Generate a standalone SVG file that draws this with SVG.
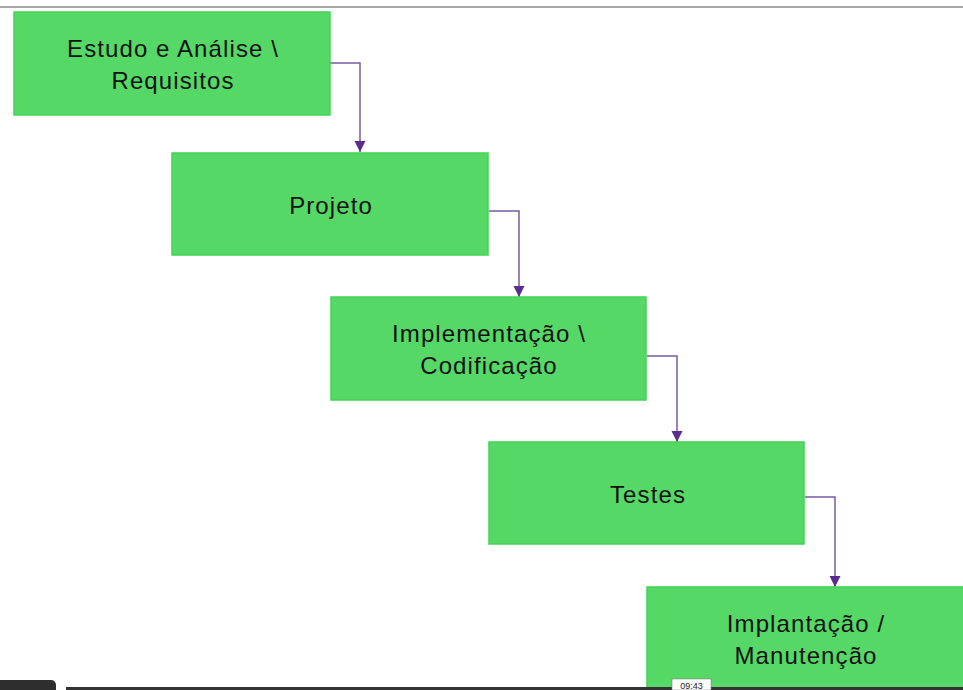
<svg xmlns="http://www.w3.org/2000/svg" width="963" height="690" viewBox="0 0 963 690">
<style>
.box{fill:#55d865;stroke:#42d454;stroke-width:1.5}
.lbl{font-family:"Liberation Sans",Arial,sans-serif;font-size:24px;letter-spacing:1.1px;fill:#111;text-anchor:middle}
.con{fill:none;stroke:#7a5aa8;stroke-width:1.5}
</style>
<defs>
<marker id="ah" markerWidth="12" markerHeight="12" refX="11" refY="6" orient="auto" markerUnits="userSpaceOnUse">
<path d="M0,0.5 L11,6 L0,11.5 Z" fill="#5a2c8e"/>
</marker>
</defs>
<rect x="0" y="0" width="963" height="690" fill="#ffffff"/>
<line x1="0" y1="7" x2="963" y2="7" stroke="#8a8a8a" stroke-width="1.5"/>
<g id="connectors">
<path class="con" d="M330,63 H360 V152" marker-end="url(#ah)"/>
<path class="con" d="M489,211 H519 V297" marker-end="url(#ah)"/>
<path class="con" d="M647,356 H677 V442" marker-end="url(#ah)"/>
<path class="con" d="M805,497 H835 V587" marker-end="url(#ah)"/>
</g>
<g id="n1">
<rect class="box" x="14" y="12" width="316" height="103"/>
<text class="lbl" x="173" y="57">Estudo e Análise \</text>
<text class="lbl" x="173" y="89">Requisitos</text>
</g>
<g id="n2">
<rect class="box" x="172" y="153" width="316" height="102"/>
<text class="lbl" x="331" y="214">Projeto</text>
</g>
<g id="n3">
<rect class="box" x="331" y="297" width="315" height="103"/>
<text class="lbl" x="489" y="342">Implementação \</text>
<text class="lbl" x="489" y="374">Codificação</text>
</g>
<g id="n4">
<rect class="box" x="489" y="442" width="315" height="102"/>
<text class="lbl" x="648" y="503">Testes</text>
</g>
<g id="n5">
<rect class="box" x="647" y="587" width="320" height="110"/>
<text class="lbl" x="806" y="632">Implantação /</text>
<text class="lbl" x="806" y="664">Manutenção</text>
</g>
<g id="player">
<rect x="-6" y="680" width="62" height="20" rx="5" fill="#2e2e2e"/>
<rect x="66" y="687" width="897" height="4" fill="#333333"/>
<rect x="672" y="679" width="39" height="11" fill="#ffffff" stroke="#777" stroke-width="0.5"/>
<text x="691.5" y="689" font-family="Liberation Sans,Arial,sans-serif" font-size="9" fill="#222" text-anchor="middle">09:43</text>
</g>
</svg>
